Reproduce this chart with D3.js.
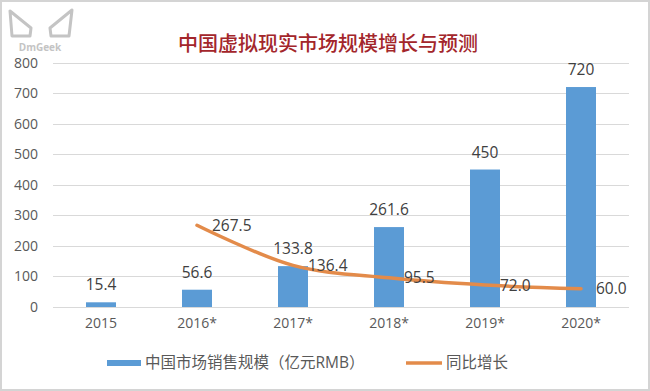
<!DOCTYPE html>
<html><head><meta charset="utf-8">
<script src="https://cdn.jsdelivr.net/npm/d3@7"></script>
<style>body{margin:0;background:#fff}svg{display:block}</style>
</head><body>
<svg id="c" width="650" height="391"></svg>
<script>
const categories = ["2015","2016*","2017*","2018*","2019*","2020*"];
const marketSize = [15.4, 56.6, 133.8, 261.6, 450, 720];
const growthCats = ["2016*","2017*","2018*","2019*","2020*"];
const growth = [267.5, 136.4, 95.5, 72.0, 60.0];
const yTicks = [0,100,200,300,400,500,600,700,800];
const title = "中国虚拟现实市场规模增长与预测";
const legendLabels = ["中国市场销售规模（亿元RMB）","同比增长"];

const svg = d3.select("#c");
const font = "'Open Sans','Noto Sans CJK SC',sans-serif";
svg.append("rect").attr("x",1).attr("y",1).attr("width",648).attr("height",389)
  .attr("fill","#fff").attr("stroke","#d4d4d4").attr("stroke-width",2);

const x = d3.scaleBand().domain(categories).range([53,629]).paddingInner(0.6875).paddingOuter(0.34375);
const y = d3.scaleLinear().domain([0,800]).range([307,62.6]);

// gridlines
svg.append("g").selectAll("line").data(yTicks).join("line")
  .attr("x1",53).attr("x2",629).attr("y1",d=>Math.round(y(d))+0.5).attr("y2",d=>Math.round(y(d))+0.5)
  .attr("stroke","#d9d9d9").attr("stroke-width",1);

// y axis labels
const ya = svg.append("g").attr("transform","translate(38,0)")
  .call(d3.axisLeft(y).tickValues(yTicks).tickSize(0).tickPadding(0));
ya.select(".domain").remove();
ya.selectAll("text").attr("font-family",font).attr("font-size",14).attr("fill","#595959");

// x axis labels
const xa = svg.append("g").attr("transform","translate(0,318)")
  .call(d3.axisBottom(x).tickSize(0).tickPadding(0));
xa.select(".domain").remove();
xa.selectAll("text").attr("font-family",font).attr("font-size",14).attr("fill","#595959").attr("dy","0.71em");

// bars
svg.append("g").selectAll("rect").data(marketSize).join("rect")
  .attr("x",(d,i)=>x(categories[i])).attr("width",x.bandwidth())
  .attr("y",d=>y(d)).attr("height",d=>y(0)-y(d)).attr("fill","#5B9BD5");

// bar labels
svg.append("g").selectAll("text").data(marketSize).join("text")
  .attr("x",(d,i)=>x(categories[i])+x.bandwidth()/2).attr("y",d=>y(d)-12)
  .attr("text-anchor","middle").attr("font-family",font).attr("font-size",15.5).attr("fill","#404040")
  .text(d=>String(d));

// line
const cx = c => x(c)+x.bandwidth()/2;
const line = d3.line().x((d,i)=>cx(growthCats[i])).y(d=>y(d)).curve(d3.curveCatmullRom.alpha(0.5));
svg.append("path").attr("d",line(growth)).attr("fill","none").attr("stroke","#E38B4A")
  .attr("stroke-width",3.5).attr("stroke-linecap","round");

// line labels
svg.append("g").selectAll("text").data(growth).join("text")
  .attr("x",(d,i)=>cx(growthCats[i])+15).attr("y",d=>y(d)).attr("dy","0.36em")
  .attr("font-family",font).attr("font-size",15.5).attr("fill","#404040")
  .text(d=>d.toFixed(1));

// title
svg.append("text").attr("x",328).attr("y",44).attr("dy","0.35em").attr("text-anchor","middle")
  .attr("font-family","'Noto Sans CJK SC',sans-serif").attr("font-weight",500).attr("font-size",20)
  .attr("fill","#A3262B").text(title);

// legend
const lg = svg.append("g");
lg.append("rect").attr("x",107).attr("y",360).attr("width",34).attr("height",6).attr("fill","#5B9BD5");
lg.append("text").attr("x",145).attr("y",363).attr("dy","0.35em").attr("font-family",font)
  .attr("font-size",15.5).attr("fill","#595959").text(legendLabels[0]);
lg.append("line").attr("x1",406).attr("x2",442).attr("y1",363).attr("y2",363)
  .attr("stroke","#E38B4A").attr("stroke-width",3.5);
lg.append("text").attr("x",446).attr("y",363).attr("dy","0.35em").attr("font-family",font)
  .attr("font-size",15.5).attr("fill","#595959").text(legendLabels[1]);

// watermark logo (top-left)
const wm = svg.append("g").attr("fill","none").attr("stroke","#c4c4c4").attr("stroke-width",3).attr("stroke-linejoin","round");
wm.append("path").attr("d","M10 11 L12 36 L30 36 L31 28 Z");
wm.append("path").attr("d","M72 10 L50 28 L51 36 L69 36 Z");
svg.append("text").attr("x",40).attr("y",51).attr("text-anchor","middle").attr("font-family",font)
  .attr("font-weight",700).attr("font-size",10).attr("fill","#c4c4c4").text("DmGeek");
</script>
</body></html>
